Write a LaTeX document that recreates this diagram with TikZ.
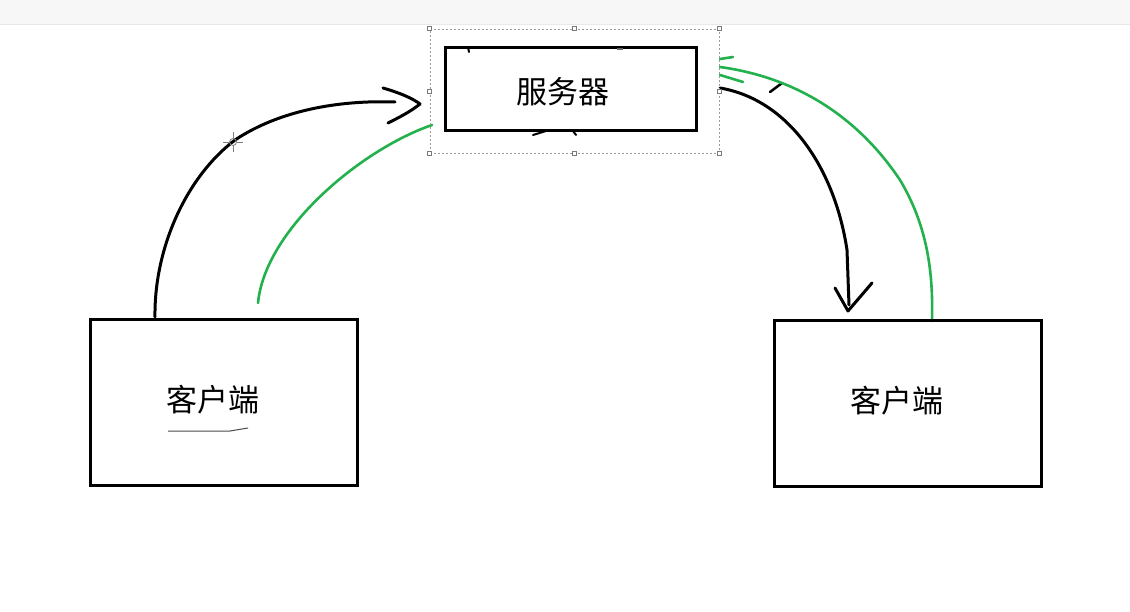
\documentclass[tikz,border=0pt]{standalone}
\usepackage{fontspec}
\newfontfamily\cjk{Noto Sans CJK SC}
\definecolor{barfill}{HTML}{F7F7F7}
\definecolor{barline}{HTML}{E8E8E8}
\definecolor{penGreen}{HTML}{22B14C}
\definecolor{selGray}{HTML}{9A9A9A}
\begin{document}
\begin{tikzpicture}[x=1pt,y=-1pt,
  box/.style={draw=black,line width=3pt,inner sep=0pt},
  label text/.style={font=\cjk\fontsize{31}{36}\selectfont,inner sep=0pt},
  ink/.style={draw=black,line width=3pt,line cap=round,line join=round},
  greenink/.style={draw=penGreen,line width=2.6pt,line cap=round,line join=round},
  handle/.style={draw=selGray!80!black,fill=white,line width=0.6pt,minimum size=4pt,inner sep=0pt},
  selection/.style={draw=selGray,line width=0.8pt,dash pattern=on 2pt off 2pt,inner sep=0pt},
  cursor/.style={draw=gray,line width=0.8pt}]
\useasboundingbox (0,0) rectangle (1130,612);
\fill[white] (0,0) rectangle (1130,612);

% toolbar strip along the top
\fill[barfill] (0,0) rectangle (1130,24);
\draw[barline,line width=1pt] (0,24.5) -- (1130,24.5);

% end points of the strokes
\coordinate (lb0) at (155,317);
\coordinate (lb1) at (235,140);
\coordinate (lb2) at (395,102);
\coordinate (lhA) at (383,88);
\coordinate (lhT) at (420,104);
\coordinate (lhB) at (388,123);
\coordinate (lg0) at (258,303);
\coordinate (lg2) at (432,125);
\coordinate (rb0) at (720,88);
\coordinate (rb1) at (847,250);
\coordinate (rb2) at (849,305);
\coordinate (rhL) at (835,288);
\coordinate (rhT) at (848,311);
\coordinate (rhR) at (872,283);
\coordinate (rg0) at (720,67);
\coordinate (rg1) at (900,180);
\coordinate (rg2) at (932,321);

% black stroke from the left client up to the server, open arrow head
\draw[ink] (lb0) .. controls (154,250) and (185,178) .. (lb1)
           .. controls (280,110) and (340,100) .. (lb2);
\draw[ink] (lhA) .. controls (400,93) and (412,98) .. (lhT) .. controls (410,112) and (398,118) .. (lhB);

% green stroke from the left client to the server
\draw[greenink] (lg0) .. controls (265,230) and (360,150) .. (lg2);

% black stroke from the server down to the right client, open arrow head
\draw[ink] (rb0) .. controls (790,100) and (835,170) .. (rb1) -- (rb2);
\draw[ink] (rhL) -- (rhT) -- (rhR);
\draw[ink,line width=2.5pt] (770,92) -- (782,83);

% green stroke from the server to the right client
\draw[greenink] (rg0) .. controls (800,78) and (860,120) .. (rg1)
                .. controls (930,230) and (933,280) .. (rg2);
\draw[greenink] (720,59) -- (733,57);
\draw[greenink] (720,75) -- (743,82);

% server box with its selection frame
\node[box,fill=white,minimum width=251pt,minimum height=83pt] (server) at (570.5,89.5) {};
\node[label text] (serverText) at (563,92) {服务器};
\draw[ink,line width=2pt] (468,47) -- (469,52);
\draw[black!60,line width=1.5pt] (617,49) -- (623,49);
\draw[ink,line width=2pt] (533,135) -- (546,131);
\draw[ink,line width=2pt] (573,131) -- (576,135);

\node[selection,minimum width=289pt,minimum height=124pt] (sel) at (574.5,91) {};
\foreach \a in {north west,north,north east,west,east,south west,south,south east}
  \node[handle] at (sel.\a) {};

% client boxes
\node[box,minimum width=267pt,minimum height=165pt] (clientL) at (223.5,402.5) {};
\node[label text] (clientLText) at (213,400) {客户端};
\draw[black!70,line width=1pt] (168,431) -- (230,431) -- (248,428);

\node[box,minimum width=267pt,minimum height=165pt] (clientR) at (907.5,403.5) {};
\node[label text] (clientRText) at (897,401) {客户端};

% mouse cursor crosshair
\coordinate (cur) at (233,142);
\draw[cursor] (cur) circle (3.5pt);
\draw[cursor] (223,142) -- (229.5,142) (236.5,142) -- (243,142)
              (233,132) -- (233,138.5) (233,145.5) -- (233,152);
\end{tikzpicture}
\end{document}
